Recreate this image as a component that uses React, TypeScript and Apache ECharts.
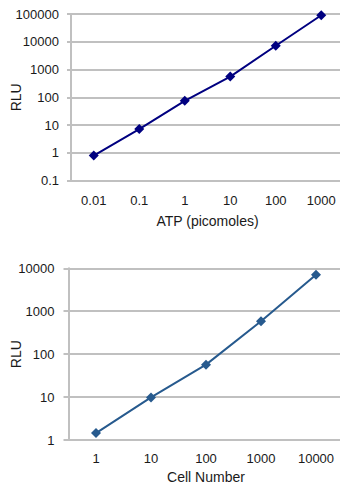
import React, { useEffect, useRef } from "react";
import * as echarts from "echarts";

const topCategories = ["0.01", "0.1", "1", "10", "100", "1000"];
const topValues = [0.8, 7.2, 75, 560, 7200, 90000];
const topYTicks = ["0.1", "1", "10", "100", "1000", "10000", "100000"];
const topXName = "ATP (picomoles)";

const bottomCategories = ["1", "10", "100", "1000", "10000"];
const bottomValues = [1.45, 9.8, 57, 585, 7100];
const bottomYTicks = ["1", "10", "100", "1000", "10000"];
const bottomXName = "Cell Number";

const yName = "RLU";

const FONT = "'Liberation Sans', Arial, sans-serif";
const GRID_COLOR = "#C0C0C0";
const TEXT_COLOR = "#1a1a1a";

function logLabel(ticks: string[], minExp: number) {
  return (v: number) => {
    const idx = Math.round(Math.log10(v)) - minExp;
    return ticks[idx] ?? "";
  };
}

export default function App() {
  const ref = useRef<HTMLDivElement>(null);
  useEffect(() => {
    if (!ref.current) return;
    const chart = echarts.init(ref.current, undefined, { renderer: "svg" });
    const axisLine = { show: true, lineStyle: { color: GRID_COLOR, width: 2 } };
    const splitLine = { show: true, lineStyle: { color: GRID_COLOR, width: 2 } };
    const tickLabel = { color: TEXT_COLOR, fontSize: 13, fontFamily: FONT };
    const nameStyle = { color: TEXT_COLOR, fontSize: 14, fontFamily: FONT };
    chart.setOption({
      animation: false,
      grid: [
        { left: 71, top: 14, width: 273, height: 166.7, containLabel: false, outerBoundsMode: "none" },
        { left: 68.5, top: 268.3, width: 275, height: 171.7, containLabel: false, outerBoundsMode: "none" },
      ],
      xAxis: [
        {
          type: "category",
          gridIndex: 0,
          data: topCategories,
          boundaryGap: true,
          axisLine,
          axisTick: { show: false },
          axisLabel: { ...tickLabel, margin: 13, interval: 0 },
          splitLine: { show: false },
          name: topXName,
          nameLocation: "middle",
          nameGap: 33,
          nameMoveOverlap: false,
          nameTextStyle: nameStyle,
        },
        {
          type: "category",
          gridIndex: 1,
          data: bottomCategories,
          boundaryGap: true,
          axisLine,
          axisTick: { show: false },
          axisLabel: { ...tickLabel, margin: 12, interval: 0 },
          splitLine: { show: false },
          name: bottomXName,
          nameLocation: "middle",
          nameGap: 30,
          nameMoveOverlap: false,
          nameTextStyle: nameStyle,
        },
      ],
      yAxis: [
        {
          type: "log",
          logBase: 10,
          gridIndex: 0,
          min: 0.1,
          max: 100000,
          splitNumber: 6,
          axisLine,
          axisTick: { show: true, inside: false, length: 4, lineStyle: { color: GRID_COLOR, width: 2 } },
          axisLabel: { ...tickLabel, margin: 12, formatter: logLabel(topYTicks, -1) },
          splitLine,
          minorTick: { show: false },
          name: yName,
          nameLocation: "middle",
          nameGap: 48,
          nameRotate: 90,
          nameMoveOverlap: false,
          nameTextStyle: nameStyle,
        },
        {
          type: "log",
          logBase: 10,
          gridIndex: 1,
          min: 1,
          max: 10000,
          splitNumber: 4,
          axisLine,
          axisTick: { show: true, inside: false, length: 5, lineStyle: { color: GRID_COLOR, width: 2 } },
          axisLabel: { ...tickLabel, margin: 14, formatter: logLabel(bottomYTicks, 0) },
          splitLine,
          name: yName,
          nameLocation: "middle",
          nameGap: 46,
          nameRotate: 90,
          nameMoveOverlap: false,
          nameTextStyle: nameStyle,
        },
      ],
      series: [
        {
          type: "line",
          xAxisIndex: 0,
          yAxisIndex: 0,
          data: topValues,
          symbol: "diamond",
          symbolSize: 10,
          lineStyle: { color: "#000080", width: 2 },
          itemStyle: { color: "#000080" },
        },
        {
          type: "line",
          xAxisIndex: 1,
          yAxisIndex: 1,
          data: bottomValues,
          symbol: "diamond",
          symbolSize: 10,
          lineStyle: { color: "#275A8E", width: 2 },
          itemStyle: { color: "#275A8E" },
        },
      ],
    });
    return () => chart.dispose();
  }, []);
  return (
    <div
      ref={ref}
      style={{ position: "absolute", left: 0, top: 0, width: 340, height: 485, background: "#fff" }}
    />
  );
}
